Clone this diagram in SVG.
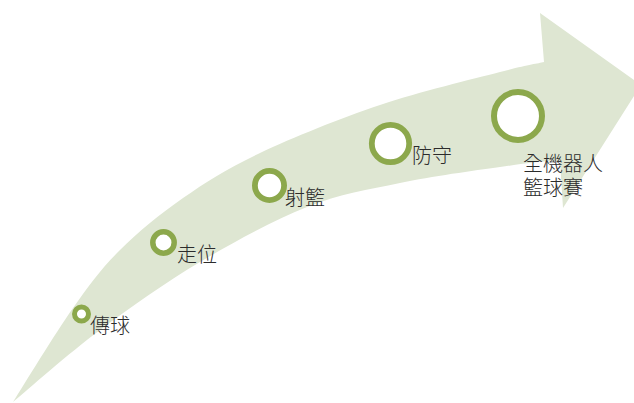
<svg xmlns="http://www.w3.org/2000/svg" width="634" height="403" viewBox="0 0 634 403">
<style>
.ring{fill:#ffffff;stroke:#8ca84c;}
.lbl{font-family:"Noto Sans CJK TC","Noto Sans CJK SC",sans-serif;font-size:20px;font-weight:300;fill:#2b2b2b;}
</style>
<rect width="634" height="403" fill="#ffffff"/>
<g id="arrow">
<path fill="#dee6d2" d="M13,402 C23,386.3 55.2,333.3 73,308 C90.8,282.7 101.7,268.3 120,250 C138.3,231.7 159.7,214.2 183,198 C206.3,181.8 227.2,168.5 260,153 C292.8,137.5 340,118.5 380,105 C420,91.5 472.7,79.2 500,72 C527.3,64.8 536.7,63.7 544,62 L540,13 L641,85 L563,208 L560,161 C550,160 526.7,163.3 500,167 C473.3,170.7 432.2,176.3 400,183 C367.8,189.7 340.3,193.8 307,207 C273.7,220.2 234.5,241.5 200,262 C165.5,282.5 131.2,306.7 100,330 C68.8,353.3 27.5,390 13,402 Z"/>
</g>
<g id="connectors"></g>
<g id="node-pass">
<circle class="ring" cx="81.5" cy="314" r="7" stroke-width="5"/>
<text class="lbl" x="90" y="333">傳球</text>
</g>
<g id="node-move">
<circle class="ring" cx="163.5" cy="242.5" r="10.7" stroke-width="5.5"/>
<text class="lbl" x="177" y="262">走位</text>
</g>
<g id="node-shoot">
<circle class="ring" cx="269.5" cy="185.5" r="14.6" stroke-width="5.8"/>
<text class="lbl" x="285" y="205">射籃</text>
</g>
<g id="node-defend">
<circle class="ring" cx="390.5" cy="143.5" r="18.7" stroke-width="5.8"/>
<text class="lbl" x="412" y="163">防守</text>
</g>
<g id="node-contest">
<circle class="ring" cx="518" cy="116" r="24" stroke-width="6"/>
<text class="lbl" x="523" y="171"><tspan x="523" y="171">全機器人</tspan><tspan x="523" y="195">籃球賽</tspan></text>
</g>
</svg>
